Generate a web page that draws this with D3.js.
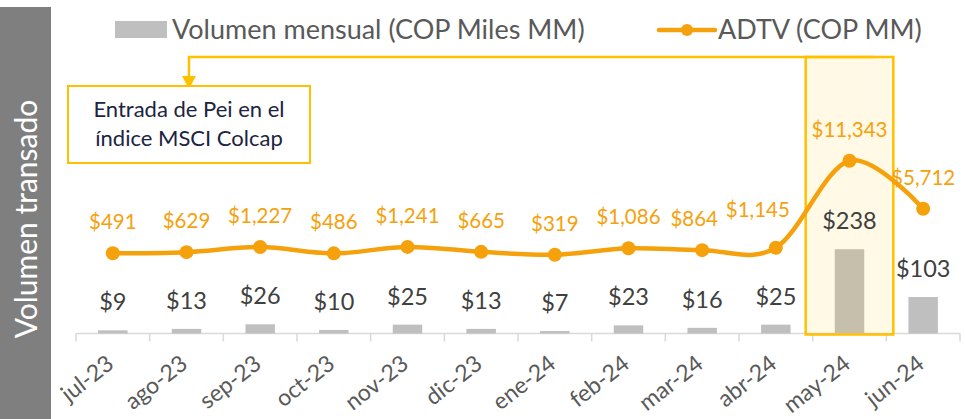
<!DOCTYPE html>
<html><head><meta charset="utf-8">
<script src="https://cdn.jsdelivr.net/npm/d3@7"></script>
<style>html,body{margin:0;padding:0;background:#fff;}svg{display:block;font-family:Lato,'Open Sans',sans-serif;}</style>
</head><body><svg id="c" width="965" height="419"></svg>
<script>
const categories = ["jul-23","ago-23","sep-23","oct-23","nov-23","dic-23","ene-24","feb-24","mar-24","abr-24","may-24","jun-24"];
const volumen = [9,13,26,10,25,13,7,23,16,25,238,103];
const adtv = [491,629,1227,486,1241,665,319,1086,864,1145,11343,5712];
const legendLabels = ["Volumen mensual (COP Miles MM)","ADTV (COP MM)"];
const axisTitle = "Volumen transado";
const noteLines = ["Entrada de Pei en el","índice MSCI Colcap"];
const highlightCat = "may-24";

const W = 965, H = 419;
const ORANGE = "#F5A10C", GOLD = "#FFC000";
const svg = d3.select("#c");
const fmt = v => "$" + d3.format(",")(v);

const x = d3.scaleBand().domain(categories).range([76, 960]).paddingInner(0.6).paddingOuter(0.3);
const step = x.step();
const axisY = 333.5;
const yBar = d3.scaleLinear().domain([0, 800]).range([axisY, axisY - 800 * 0.3542]);
const yLine = d3.scaleLinear().domain([0, 12000]).range([257.5, 257.5 - 12000 * 0.00853]);
const cx = c => x(c) + x.bandwidth() / 2;

// left panel
svg.append("rect").attr("x", 0).attr("y", 7).attr("width", 51).attr("height", H - 7).attr("fill", "#7f7f7f");
svg.append("text").attr("transform", "translate(25,219) rotate(-90)")
  .attr("text-anchor", "middle").attr("dominant-baseline", "central")
  .attr("fill", "#fff").attr("font-size", 30).text(axisTitle);

// legend
svg.append("rect").attr("x", 115).attr("y", 21).attr("width", 52).attr("height", 17).attr("fill", "#bfbfbf");
svg.append("text").attr("x", 172).attr("y", 38.5).attr("fill", "#595959").attr("font-size", 27).text(legendLabels[0]);
svg.append("line").attr("x1", 659).attr("x2", 715).attr("y1", 30).attr("y2", 30).attr("stroke", ORANGE).attr("stroke-width", 4.5).attr("stroke-linecap", "round");
svg.append("circle").attr("cx", 687).attr("cy", 30).attr("r", 6).attr("fill", ORANGE);
svg.append("text").attr("x", 718).attr("y", 38.5).attr("fill", "#595959").attr("font-size", 27).text(legendLabels[1]);

// x axis
const axisG = svg.append("g");
axisG.append("line").attr("x1", 76).attr("x2", 960).attr("y1", axisY).attr("y2", axisY).attr("stroke", "#d9d9d9").attr("stroke-width", 1.5);
d3.range(categories.length + 1).forEach(i => {
  const tx = 76 + i * step;
  axisG.append("line").attr("x1", tx).attr("x2", tx).attr("y1", axisY).attr("y2", axisY + 8).attr("stroke", "#d9d9d9").attr("stroke-width", 1.5);
});
categories.forEach(c => {
  axisG.append("text").attr("transform", `translate(${cx(c) + 2.5},${axisY + 33}) rotate(-38)`)
    .attr("text-anchor", "end").attr("fill", "#595959").attr("font-size", 23).text(c);
});

// bars
svg.append("g").selectAll("rect").data(categories).join("rect")
  .attr("x", c => x(c)).attr("width", x.bandwidth())
  .attr("y", (c, i) => yBar(volumen[i])).attr("height", (c, i) => axisY - yBar(volumen[i]))
  .attr("fill", "#bfbfbf");

// highlight box
const hx0 = x(highlightCat) - (step - x.bandwidth()) / 2 - 7;
svg.append("rect").attr("x", hx0).attr("y", 57).attr("width", step + 14).attr("height", axisY + 1 - 57)
  .attr("fill", "rgba(255,192,0,0.1)").attr("stroke", GOLD).attr("stroke-width", 2.5);

// bar labels
svg.append("g").selectAll("text").data(categories).join("text")
  .attr("x", c => cx(c)).attr("y", (c, i) => yBar(volumen[i]) - 20)
  .attr("text-anchor", "middle").attr("fill", "#404040").attr("font-size", 23.5)
  .text((c, i) => fmt(volumen[i]));

// connector + annotation
const arrowX = 189;
svg.append("path").attr("d", `M${cx(highlightCat) + 24},57 H${arrowX} V78`).attr("fill", "none").attr("stroke", GOLD).attr("stroke-width", 2.5);
svg.append("path").attr("d", `M${arrowX - 7},76 L${arrowX + 7},76 L${arrowX},89 Z`).attr("fill", GOLD);
svg.append("rect").attr("x", 68).attr("y", 86).attr("width", 242).attr("height", 77).attr("fill", "#fff").attr("stroke", GOLD).attr("stroke-width", 2);
noteLines.forEach((t, i) => {
  svg.append("text").attr("x", 189).attr("y", 117 + i * 29).attr("text-anchor", "middle")
    .attr("fill", "#1b2440").attr("font-size", 22).text(t);
});

// line
const line = d3.line().x(d => cx(d.c)).y(d => yLine(d.v)).curve(d3.curveCardinal.tension(0));
const pts = categories.map((c, i) => ({c, v: adtv[i]}));
svg.append("path").datum(pts).attr("d", line).attr("fill", "none").attr("stroke", ORANGE).attr("stroke-width", 4.5).attr("stroke-linejoin", "round");
svg.append("g").selectAll("circle").data(pts).join("circle")
  .attr("cx", d => cx(d.c)).attr("cy", d => yLine(d.v)).attr("r", 7).attr("fill", ORANGE);

// line labels (the one before the highlighted month is pushed up-left, off the rising line)
const hi = categories.indexOf(highlightCat);
const before = categories[hi - 1], before2 = categories[hi - 2];
const lbl = svg.append("g").selectAll("text").data(pts).join("text")
  .attr("x", d => cx(d.c) - (d.c === before ? 18 : d.c === before2 ? 8 : 0))
  .attr("y", d => yLine(d.v) - (d.c === before ? 31 : 24))
  .attr("text-anchor", "middle").attr("fill", ORANGE).attr("font-size", 20.5)
  .text(d => fmt(d.v));
lbl.each(function(d) {
  const w = this.getComputedTextLength();
  const c = cx(d.c);
  if (c + w / 2 > W) d3.select(this).attr("x", W - w / 2);
});
</script></body></html>
